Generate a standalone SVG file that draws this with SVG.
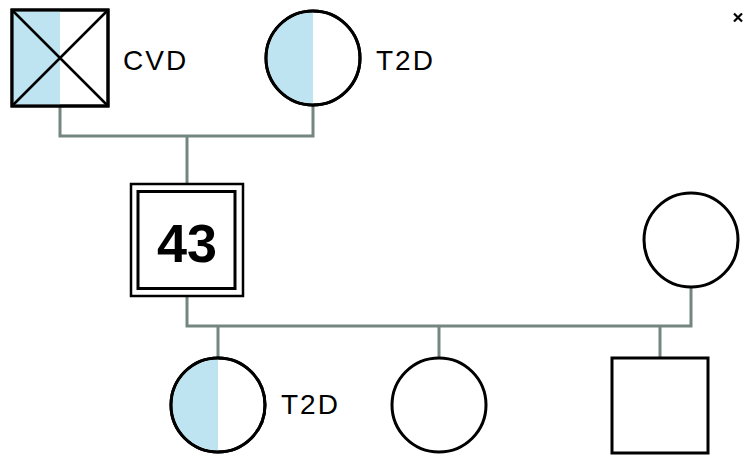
<svg xmlns="http://www.w3.org/2000/svg" width="746" height="463" viewBox="0 0 746 463">
<style>
.sym{fill:#fff;stroke:#000;stroke-width:3}
.aff{fill:#bde4f0;stroke:none}
.conn{fill:none;stroke:#748680;stroke-width:3}
.lbl{font-family:"Liberation Sans",Arial,sans-serif;font-size:28px;letter-spacing:2px;fill:#000}
.num{font-family:"Liberation Sans",Arial,sans-serif;font-size:54px;font-weight:bold;fill:#000}
</style>
<rect width="746" height="463" fill="#fff"/>
<g id="connectors">
<polyline class="conn" points="60,106 60,136 313,136 313,106"/>
<line class="conn" x1="187" y1="136" x2="187" y2="183"/>
<polyline class="conn" points="187,297 187,326 691,326 691,288"/>
<line class="conn" x1="218" y1="326" x2="218" y2="358"/>
<line class="conn" x1="439" y1="326" x2="439" y2="358"/>
<line class="conn" x1="660" y1="326" x2="660" y2="358"/>
</g>
<g id="grandfather">
<rect class="sym" x="12" y="10" width="96" height="96"/>
<rect class="aff" x="13.5" y="11.5" width="46.5" height="93"/>
<rect x="12" y="10" width="96" height="96" fill="none" stroke="#000" stroke-width="3"/>
<path d="M12,10 L108,106 M108,10 L12,106" stroke="#000" stroke-width="2.5"/>
<text class="lbl" x="123" y="70">CVD</text>
</g>
<g id="grandmother">
<circle class="sym" cx="313" cy="58" r="47"/>
<path class="aff" d="M313,12.5 A45.5,45.5 0 0 0 313,103.5 Z"/>
<circle cx="313" cy="58" r="47" fill="none" stroke="#000" stroke-width="3"/>
<text class="lbl" x="376" y="70">T2D</text>
</g>
<g id="proband">
<rect x="131" y="184" width="112" height="112" fill="#fff" stroke="#000" stroke-width="2.5"/>
<rect x="138" y="191.5" width="97" height="97" fill="#fff" stroke="#000" stroke-width="3"/>
<text class="num" x="187" y="262" text-anchor="middle">43</text>
</g>
<g id="spouse">
<circle class="sym" cx="691" cy="240" r="47"/>
</g>
<g id="child1">
<circle class="sym" cx="218" cy="405" r="47"/>
<path class="aff" d="M218,359.5 A45.5,45.5 0 0 0 218,450.5 Z"/>
<circle cx="218" cy="405" r="47" fill="none" stroke="#000" stroke-width="3"/>
<text class="lbl" x="281" y="414">T2D</text>
</g>
<g id="child2">
<circle class="sym" cx="439" cy="405" r="47"/>
</g>
<g id="child3">
<rect class="sym" x="612" y="358" width="96" height="95"/>
</g>
<g id="close">
<path d="M734,13.5 L742,21.5 M742,13.5 L734,21.5" stroke="#000" stroke-width="2.2"/>
</g>
</svg>
